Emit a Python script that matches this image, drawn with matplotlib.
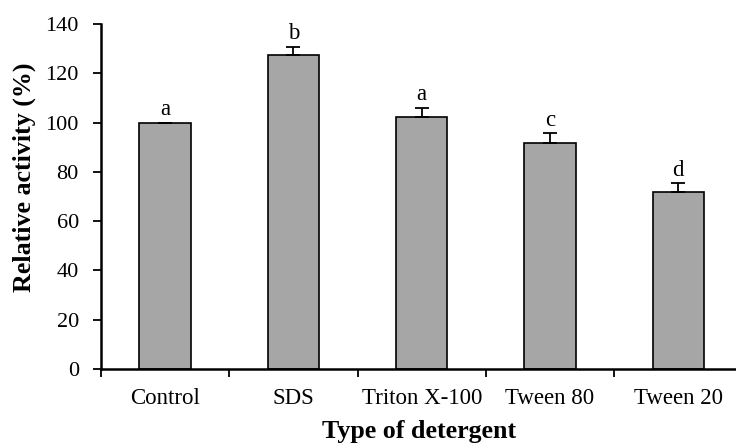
import numpy as np
import matplotlib.pyplot as plt

plt.rcParams['font.family'] = ['Liberation Serif', 'DejaVu Serif']

detergents = ['Control', 'SDS', 'Triton X-100', 'Tween 80', 'Tween 20']
activity = [100, 127.3, 102.4, 91.9, 72.0]
errors = [0, 3.4, 3.6, 3.8, 3.4]
letters = ['a', 'b', 'a', 'c', 'd']

fig = plt.figure(figsize=(7.36, 4.43), dpi=100)
ax = fig.add_axes([101 / 736, 1 - 369 / 443, 635 / 736, 345 / 443])

x = np.arange(len(detergents))
ax.bar(x, activity, width=0.4, color='#a6a6a6', edgecolor='black', linewidth=1.2, zorder=2)
ax.errorbar(x, activity, yerr=[np.zeros(len(errors)), errors], fmt='none',
            ecolor='black', elinewidth=1.3, capsize=5, capthick=1.3, zorder=3)
for xi, v, e, l in zip(x, activity, errors, letters):
    ax.text(xi, v + e + 1.0, l, ha='center', va='bottom', fontsize=16.5)

ax.set_xlim(-0.5, 4.45)
ax.set_ylim(0, 140)
ax.set_yticks(range(0, 141, 20))
ax.set_xticks(np.arange(-0.5, 4.5, 1.0))
ax.set_xticklabels([])
ax.set_xticks(x, minor=True)
ax.set_xticklabels(detergents, minor=True, fontsize=16.5)
ax.tick_params(axis='x', which='minor', length=0, pad=14)
ax.tick_params(axis='x', which='major', direction='out', length=6, width=1.3)
ax.tick_params(axis='y', direction='out', length=6, width=1.3, labelsize=16, pad=10)

for s in ['top', 'right']:
    ax.spines[s].set_visible(False)
for s in ['left', 'bottom']:
    ax.spines[s].set_linewidth(1.8)

fig.text(24 / 736, 1 - 177 / 443, 'Relative activity (%)', rotation=90,
         ha='center', va='center', fontsize=18.7, fontweight='bold')
fig.text(419.5 / 736, 1 - 438 / 443, 'Type of detergent',
         ha='center', va='baseline', fontsize=18.7, fontweight='bold')

fig.savefig('out.png', dpi=100)
